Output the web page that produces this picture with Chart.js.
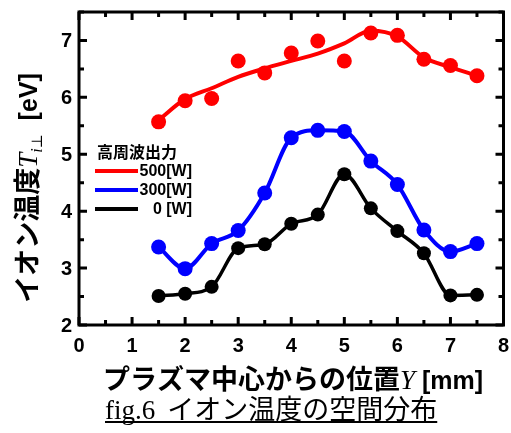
<!DOCTYPE html>
<html>
<head>
<meta charset="utf-8">
<script src="https://cdn.jsdelivr.net/npm/chart.js@4"></script>
<style>
	body { margin: 0; background: #fff; }
	canvas { display: block; }
</style>
</head>
<body>
<canvas id="chartIon" width="511" height="433"></canvas>
<script>
'use strict'

// position Y [mm]
const positions = [1.5, 2, 2.5, 3, 3.5, 4, 4.5, 5, 5.5, 6, 6.5, 7, 7.5];

// measured Ti [eV]
const ti500 = [5.57, 5.94, 5.98, 6.64, 6.43, 6.78, 6.99, 6.64, 7.13, 7.09, 6.67, 6.56, 6.38];
const ti500Fit = [5.6, 5.97, 6.16, 6.36, 6.51, 6.64, 6.77, 6.95, 7.17, 7.07, 6.7, 6.53, 6.38];
const ti300 = [3.37, 2.99, 3.43, 3.66, 4.32, 5.29, 5.42, 5.4, 4.88, 4.47, 3.67, 3.29, 3.43];
const ti0 = [2.51, 2.55, 2.67, 3.35, 3.42, 3.78, 3.94, 4.65, 4.05, 3.65, 3.26, 2.52, 2.53];

const xTicks = [0, 1, 2, 3, 4, 5, 6, 7, 8];
const yTicks = [2, 3, 4, 5, 6, 7];

const legendTitle = '高周波出力';
const legendLabels = ['500[W]', '300[W]', '0 [W]'];
const legendColors = ['#ff0000', '#0000ff', '#000000'];

const toPoints = (ys) => ys.map((y, i) => ({ x: positions[i], y: y }));

const sansBold = '"Liberation Sans", Arial, sans-serif';
const cjk = '"Noto Sans CJK JP", sans-serif';
const serif = '"Liberation Serif", "DejaVu Serif", serif';

function drawRun(ctx, parts, x, y) {
	// parts: [text, font, dy]
	let total = 0;
	parts.forEach(p => { ctx.font = p[1]; total += ctx.measureText(p[0]).width; });
	let cx = x - total / 2;
	parts.forEach(p => {
		ctx.font = p[1];
		ctx.fillText(p[0], cx, y + (p[2] || 0));
		cx += ctx.measureText(p[0]).width;
	});
}

const frameAndText = {
	id: 'frameAndText',
	afterDraw(chart) {
		const { ctx, chartArea: { top, bottom, left, right }, scales: { x, y } } = chart;
		ctx.save();
		ctx.strokeStyle = '#000';
		ctx.fillStyle = '#000';

		// inward ticks
		ctx.lineWidth = 3;
		for (let v = 0; v <= 8; v += 0.5) {
			const px = x.getPixelForValue(v);
			const len = v % 1 === 0 ? 8 : 5;
			ctx.beginPath();
			ctx.moveTo(px, bottom); ctx.lineTo(px, bottom - len);
			ctx.moveTo(px, top); ctx.lineTo(px, top + len);
			ctx.stroke();
		}
		for (let v = 2; v <= 7.5; v += 0.5) {
			const py = y.getPixelForValue(v);
			const len = v % 1 === 0 ? 8 : 5;
			ctx.beginPath();
			ctx.moveTo(left, py); ctx.lineTo(left + len, py);
			ctx.moveTo(right, py); ctx.lineTo(right - len, py);
			ctx.stroke();
		}
		ctx.strokeRect(left, top, right - left, bottom - top);

		// tick labels
		ctx.font = 'bold 20px ' + sansBold;
		ctx.textAlign = 'center';
		ctx.textBaseline = 'alphabetic';
		xTicks.forEach(v => ctx.fillText(String(v), x.getPixelForValue(v), 352));
		ctx.textAlign = 'right';
		yTicks.forEach(v => ctx.fillText(String(v), 72, y.getPixelForValue(v) + 7));

		// legend
		ctx.textBaseline = 'middle';
		ctx.textAlign = 'left';
		ctx.font = 'bold 16px ' + cjk;
		ctx.fillText(legendTitle, 97, 152);
		legendLabels.forEach((lab, i) => {
			const ly = 171 + i * 19;
			ctx.strokeStyle = legendColors[i];
			ctx.lineWidth = 4;
			ctx.beginPath();
			ctx.moveTo(95, ly); ctx.lineTo(138, ly);
			ctx.stroke();
			ctx.textAlign = 'right';
			ctx.font = 'bold 16px ' + sansBold;
			ctx.fillText(lab, 192, ly + 1);
		});

		// x axis title
		ctx.textAlign = 'left';
		ctx.textBaseline = 'alphabetic';
		drawRun(ctx, [
			['プラズマ中心からの位置', 'bold 27px ' + cjk],
			['Y', 'italic 27px ' + serif],
			[' [mm]', 'bold 25px ' + sansBold],
		], 293, 389);

		// y axis title
		ctx.save();
		ctx.translate(37, 188);
		ctx.rotate(-Math.PI / 2);
		drawRun(ctx, [
			['イオン温度', 'bold 27px ' + cjk],
			['T', 'italic 27px ' + serif],
			['i', 'italic 16px ' + serif, 5],
			['⊥', '15px ' + serif, 5],
			['  [eV]', 'bold 25px ' + sansBold],
		], 0, 0);
		ctx.restore();

		// caption
		ctx.font = '27px ' + serif;
		let cx = 105;
		ctx.fillText('fig.6', cx, 419);
		cx += ctx.measureText('fig.6').width + 12;
		ctx.font = '27px ' + cjk;
		ctx.fillText('イオン温度の空間分布', cx, 419);
		cx += ctx.measureText('イオン温度の空間分布').width;
		ctx.strokeStyle = '#000';
		ctx.lineWidth = 2;
		ctx.beginPath();
		ctx.moveTo(105, 422); ctx.lineTo(cx, 422);
		ctx.stroke();

		ctx.restore();
	},
};

const ionChart = new Chart(document.getElementById('chartIon'), {
	type: 'line',
	data: {
		datasets: [
			{
				label: '500[W] data',
				data: toPoints(ti500),
				showLine: false,
				pointRadius: 7.5,
				pointBackgroundColor: legendColors[0],
				pointBorderWidth: 0,
			},
			{
				label: '500[W]',
				data: toPoints(ti500Fit),
				borderColor: legendColors[0],
				borderWidth: 4,
				pointRadius: 0,
				cubicInterpolationMode: 'monotone',
			},
			{
				label: '300[W]',
				data: toPoints(ti300),
				borderColor: legendColors[1],
				borderWidth: 4,
				pointRadius: 7.5,
				pointBackgroundColor: legendColors[1],
				pointBorderWidth: 0,
				cubicInterpolationMode: 'monotone',
			},
			{
				label: '0 [W]',
				data: toPoints(ti0),
				borderColor: legendColors[2],
				borderWidth: 3.5,
				pointRadius: 7,
				pointBackgroundColor: legendColors[2],
				pointBorderWidth: 0,
				cubicInterpolationMode: 'monotone',
			},
		],
	},
	options: {
		responsive: false,
		animation: false,
		devicePixelRatio: 1,
		layout: { padding: { top: 12, right: 4, left: 0, bottom: 0 } },
		plugins: {
			legend: { display: false },
			tooltip: { enabled: false },
		},
		scales: {
			x: {
				type: 'linear',
				min: 0,
				max: 8,
				afterBuildTicks: (scale) => { scale.ticks = xTicks.map(v => ({ value: v })); },
				afterFit: (scale) => { scale.height = 108; },
				grid: { display: false, drawTicks: false },
				border: { display: false },
				ticks: { display: false },
			},
			y: {
				min: 2,
				max: 7.5,
				afterBuildTicks: (scale) => { scale.ticks = yTicks.map(v => ({ value: v })); },
				afterFit: (scale) => { scale.width = 79; },
				grid: { display: false, drawTicks: false },
				border: { display: false },
				ticks: { display: false },
			},
		},
	},
	plugins: [frameAndText],
});
</script>
</body>
</html>
